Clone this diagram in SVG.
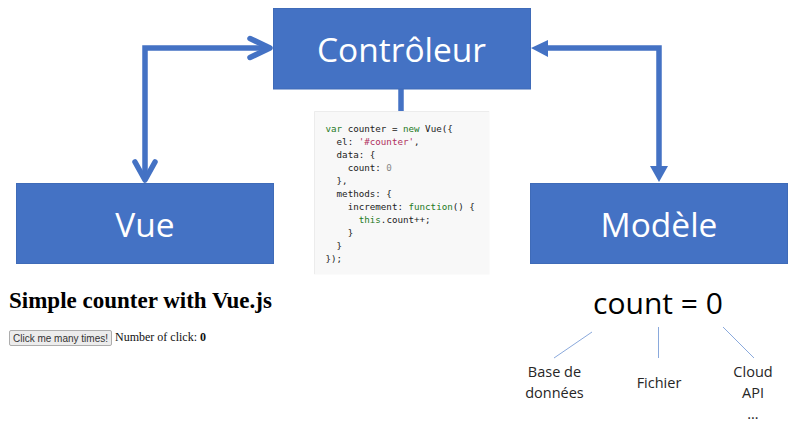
<svg xmlns="http://www.w3.org/2000/svg" width="800" height="428" viewBox="0 0 800 428">
<style>
.box{fill:#4472c4;stroke:#3f6bb8;stroke-width:1}
.boxt{font-family:"Open Sans",sans-serif;font-size:33.500px;fill:#fff;text-anchor:middle}
.link{fill:none;stroke:#4472c4;stroke-width:5.5}
.thin{fill:none;stroke:#8aa9dc;stroke-width:1}
.lab{font-family:"Open Sans",sans-serif;font-size:14.5px;fill:#262626;text-anchor:middle}
.code{font-family:"DejaVu Sans Mono",monospace;font-size:9.2px;fill:#222;white-space:pre}
.kw{fill:#1f7a25}.str{fill:#b03060}.num{fill:#888}
</style>
<rect width="800" height="428" fill="#fff"/>
<g id="connectors">
<path class="link" d="M270 48H145V180"/>
<path class="link" stroke-linecap="round" stroke-linejoin="round" d="M250 38.500L270 48L250 57.500M135 162L145 180L155 162"/>
<path class="link" d="M545 48H659V168"/>
<path fill="#4472c4" d="M531 48L548 40V57ZM659 182L650 166H668Z"/>
<path class="link" d="M401 89V112"/>
<path class="thin" d="M592 332L554 358M658.500 327V358M723 327L754 358"/>
</g>
<g id="controleur"><rect class="box" x="273.500" y="8.500" width="257" height="80.500"/><text class="boxt" x="401.500" y="62">Contrôleur</text></g>
<g id="vue"><rect class="box" x="16.500" y="183.500" width="257" height="80"/><text class="boxt" x="145" y="237">Vue</text></g>
<g id="modele"><rect class="box" x="530.500" y="183.500" width="257" height="80"/><text class="boxt" x="659" y="237">Modèle</text></g>
<g id="code">
<rect x="314" y="111" width="175.500" height="163.500" fill="#f8f8f8"/>
<path d="M314.500 274V111.500H489" fill="none" stroke="#ececec"/>
<text class="code" x="325.500" y="131.500"><tspan class="kw">var</tspan> counter = <tspan class="kw">new</tspan> Vue({</text>
<text class="code" x="325.500" y="144.500">  el: <tspan class="str">'#counter'</tspan>,</text>
<text class="code" x="325.500" y="157.500">  data: {</text>
<text class="code" x="325.500" y="170.500">    count: <tspan class="num">0</tspan></text>
<text class="code" x="325.500" y="183.500">  },</text>
<text class="code" x="325.500" y="196.500">  methods: {</text>
<text class="code" x="325.500" y="209.500">    increment: <tspan class="kw">function</tspan>() {</text>
<text class="code" x="325.500" y="222.500">      <tspan class="kw">this</tspan>.count++;</text>
<text class="code" x="325.500" y="235.500">    }</text>
<text class="code" x="325.500" y="248.500">  }</text>
<text class="code" x="325.500" y="261.500">});</text>
</g>
<g id="page">
<text x="9" y="308" font-family="Liberation Serif,serif" font-size="23" font-weight="700" fill="#000">Simple counter with Vue.js</text>
<rect x="9.500" y="330.500" width="102" height="15" rx="1.500" fill="#ececec" stroke="#adadad"/>
<text x="60.500" y="341.500" font-family="Liberation Sans,sans-serif" font-size="10" fill="#333" text-anchor="middle">Click me many times!</text>
<text x="115" y="341" font-family="Liberation Serif,serif" font-size="12" fill="#111">Number of click: <tspan font-weight="700">0</tspan></text>
</g>
<g id="model-data">
<text x="658" y="314" font-family="Open Sans,sans-serif" font-size="30" fill="#000" text-anchor="middle">count = 0</text>
<text class="lab" x="554.500" y="377">Base de</text>
<text class="lab" x="554.500" y="398">données</text>
<text class="lab" x="659" y="388">Fichier</text>
<text class="lab" x="753" y="377">Cloud</text>
<text class="lab" x="753" y="398">API</text>
<text class="lab" x="753" y="419">…</text>
</g>
</svg>
